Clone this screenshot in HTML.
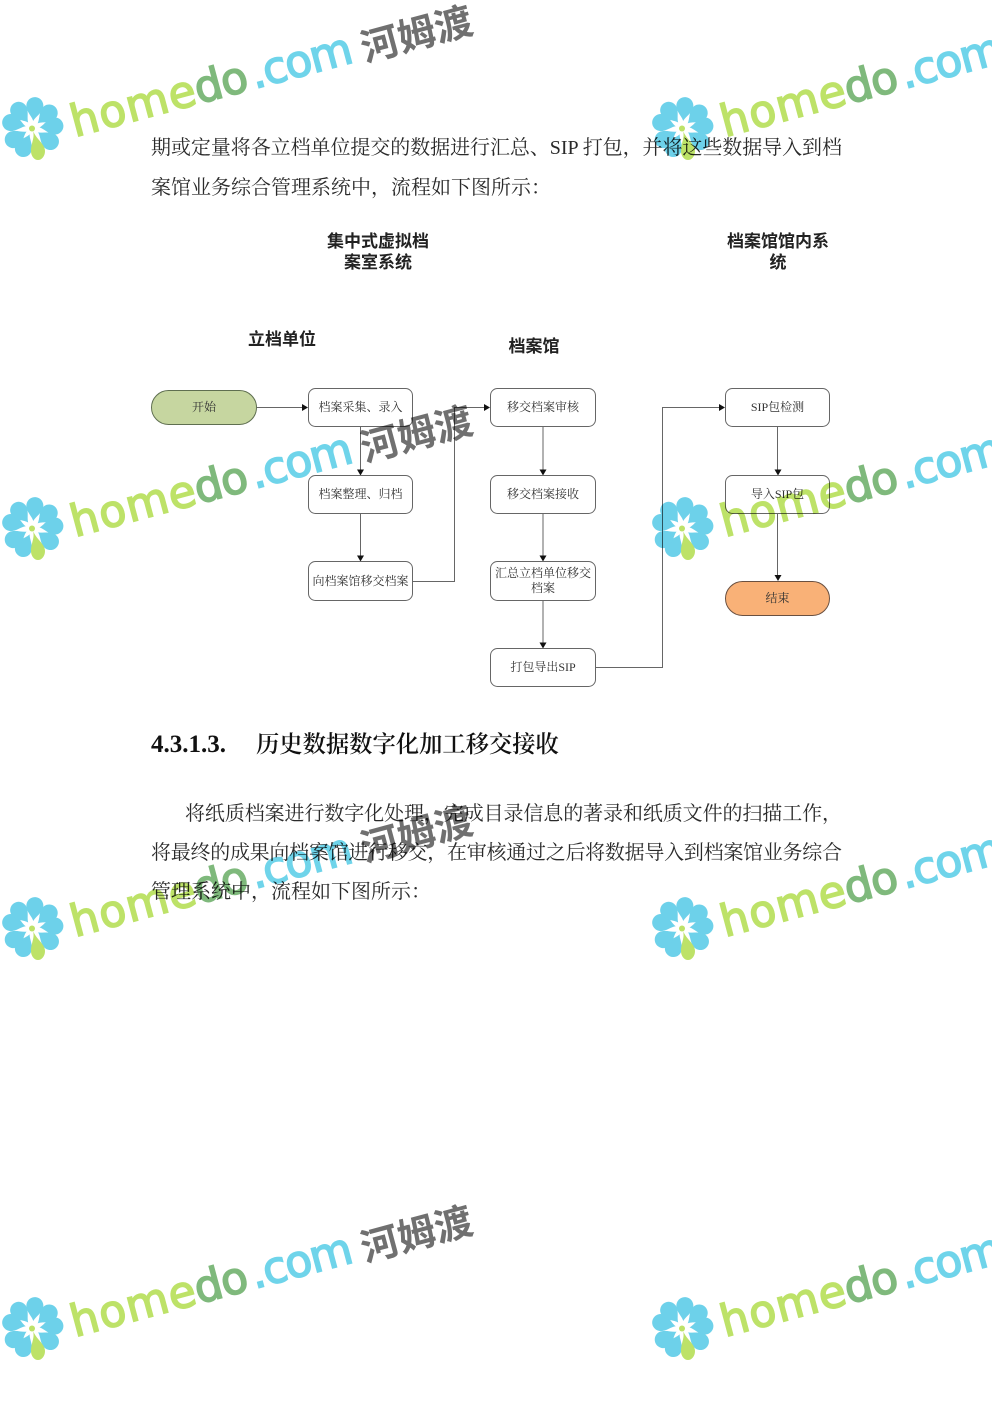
<!DOCTYPE html>
<html lang="zh">
<head>
<meta charset="utf-8">
<style>
html,body{margin:0;padding:0;background:#fff;width:992px;height:1403px;overflow:hidden}
svg{position:absolute;left:0;top:0}
.b{font-family:"Liberation Serif","Noto Serif CJK SC",serif;font-size:20px;fill:#2a2a2a}
.d{font-family:"Liberation Serif","Noto Serif CJK SC",serif;font-size:12px;fill:#333;text-anchor:middle}
.l{font-family:"Liberation Sans","Noto Sans CJK SC",sans-serif;font-size:17px;font-weight:700;fill:#222;text-anchor:middle}
.box{fill:#fff;stroke:#666;stroke-width:1}
.ln{fill:none;stroke:#666;stroke-width:1}
.w1,.w2,.w3{font-family:"DejaVu Sans",sans-serif;font-size:44px;stroke-width:1.6px}
.w1{fill:#bde268;stroke:#bde268}
.w2{fill:#7fb97c;stroke:#7fb97c}
.w3{fill:#6fd4ea;stroke:#6fd4ea}
.w4{font-family:"Noto Sans CJK SC",sans-serif;font-size:38px;font-weight:700;fill:#707070}
.wm{mix-blend-mode:multiply}
</style>
</head>
<body>
<svg width="992" height="1403" viewBox="0 0 992 1403" xmlns="http://www.w3.org/2000/svg">
<defs>
<path id="p" d="M0,-7 C-2,-12 -8.500,-16 -8.500,-22.500 A8.200,8.200 0 0 1 8.500,-22.500 C8.500,-16 2,-12 0,-7Z" fill="#6dd1ea"/>
<g id="fl">
<use href="#p" transform="translate(32.5,128) rotate(6)"/>
<use href="#p" transform="translate(32.5,128) rotate(48)"/>
<use href="#p" transform="translate(32.5,128) rotate(85)"/>
<use href="#p" transform="translate(32.5,128) rotate(127)"/>
<use href="#p" transform="translate(32.5,128) rotate(204)"/>
<use href="#p" transform="translate(32.5,128) rotate(239)"/>
<use href="#p" transform="translate(32.5,128) rotate(284)"/>
<use href="#p" transform="translate(32.5,128) rotate(322)"/>
<circle cx="32" cy="128.500" r="3" fill="#bde268"/>
<path d="M33,131 C35,138 31,143 31,151 A7,9 0 0 0 45,151 C45,144 37,140 33,131Z" fill="#bde268"/>
</g>
</defs>

<!-- body text -->
<text class="b" x="151" y="154" textLength="691" lengthAdjust="spacing">期或定量将各立档单位提交的数据进行汇总、SIP 打包，并将这些数据导入到档</text>
<text class="b" x="151" y="194">案馆业务综合管理系统中，流程如下图所示：</text>

<text class="l" x="378" y="247">集中式虚拟档</text>
<text class="l" x="378" y="268">案室系统</text>
<text class="l" x="778" y="247">档案馆馆内系</text>
<text class="l" x="778" y="268">统</text>
<text class="l" x="282" y="345">立档单位</text>
<text class="l" x="534" y="352">档案馆</text>

<!-- connectors -->
<path class="ln" d="M257,407.500H304M360.500,426V471M360.500,513.500V557M412.500,581.500H454.500V407.500H486M543,426V471M543,513.500V557M543,600.500V644M595.500,667.500H662.500V407.500H721M777.500,426V471M777.500,513.500V577"/>
<g fill="#111">
<path d="M302,404L308,407.500L302,411Z"/>
<path d="M484,404L490,407.500L484,411Z"/>
<path d="M719,404L725,407.500L719,411Z"/>
<path d="M357,469.500H364L360.500,475.500Z"/>
<path d="M357,555.500H364L360.500,561.500Z"/>
<path d="M539.500,469.500H546.500L543,475.500Z"/>
<path d="M539.500,555.500H546.500L543,561.500Z"/>
<path d="M539.500,642.500H546.500L543,648.500Z"/>
<path d="M774.500,469.500H781.500L778,475.500Z"/>
<path d="M774.500,575H781.500L778,581Z"/>
</g>

<!-- nodes -->
<rect x="151.500" y="390.500" width="105" height="34" rx="17" fill="#c6d6a0" stroke="#5f6f50"/>
<rect class="box" x="308.500" y="388.500" width="104" height="38" rx="7"/>
<rect class="box" x="308.500" y="475.500" width="104" height="38" rx="7"/>
<rect class="box" x="308.500" y="561.500" width="104" height="39" rx="7"/>
<rect class="box" x="490.500" y="388.500" width="105" height="38" rx="7"/>
<rect class="box" x="490.500" y="475.500" width="105" height="38" rx="7"/>
<rect class="box" x="490.500" y="561.500" width="105" height="39" rx="7"/>
<rect class="box" x="490.500" y="648.500" width="105" height="38" rx="7"/>
<rect class="box" x="725.500" y="388.500" width="104" height="38" rx="7"/>
<rect class="box" x="725.500" y="475.500" width="104" height="38" rx="7"/>
<rect x="725.500" y="581.500" width="104" height="34" rx="17" fill="#f9b177" stroke="#6a5040"/>

<text class="d" x="204" y="411">开始</text>
<text class="d" x="360.500" y="411">档案采集、录入</text>
<text class="d" x="360.500" y="498">档案整理、归档</text>
<text class="d" x="360.500" y="585">向档案馆移交档案</text>
<text class="d" x="543" y="411">移交档案审核</text>
<text class="d" x="543" y="498">移交档案接收</text>
<text class="d" x="543" y="577">汇总立档单位移交</text>
<text class="d" x="543" y="592">档案</text>
<text class="d" x="543" y="671">打包导出SIP</text>
<text class="d" x="777.500" y="411">SIP包检测</text>
<text class="d" x="777.500" y="498">导入SIP包</text>
<text class="d" x="777.500" y="602">结束</text>

<!-- heading and paragraph -->
<text x="151" y="752" font-family="Liberation Serif" font-weight="700" font-size="25" fill="#111">4.3.1.3.</text>
<text x="256" y="752" font-family="Liberation Serif,Noto Serif CJK SC,serif" font-weight="600" font-size="23.300" fill="#111">历史数据数字化加工移交接收</text>
<text class="b" x="185" y="820" textLength="657" lengthAdjust="spacing">将纸质档案进行数字化处理，完成目录信息的著录和纸质文件的扫描工作，</text>
<text class="b" x="151" y="859" textLength="691" lengthAdjust="spacing">将最终的成果向档案馆进行移交，在审核通过之后将数据导入到档案馆业务综合</text>
<text class="b" x="151" y="898">管理系统中，流程如下图所示：</text>

<!-- watermarks -->
<g class="wm">
<g>
<use href="#fl"/>
<g transform="translate(75,137) rotate(-15)"><text class="w1" x="0" y="0" textLength="128">home</text><text class="w2" x="128" y="0" textLength="54">do</text><text class="w3" x="186" y="0" textLength="104">.com</text></g>
<g transform="translate(365,62) rotate(-15)"><text class="w4" x="0" y="0" textLength="114">河姆渡</text></g>
</g>
<g transform="translate(650,0)"><use href="#fl"/>
<g transform="translate(75,137) rotate(-15)"><text class="w1" x="0" y="0" textLength="128">home</text><text class="w2" x="128" y="0" textLength="54">do</text><text class="w3" x="186" y="0" textLength="104">.com</text></g></g>
<g transform="translate(0,400)"><use href="#fl"/>
<g transform="translate(75,137) rotate(-15)"><text class="w1" x="0" y="0" textLength="128">home</text><text class="w2" x="128" y="0" textLength="54">do</text><text class="w3" x="186" y="0" textLength="104">.com</text></g>
<g transform="translate(365,62) rotate(-15)"><text class="w4" x="0" y="0" textLength="114">河姆渡</text></g></g>
<g transform="translate(650,400)"><use href="#fl"/>
<g transform="translate(75,137) rotate(-15)"><text class="w1" x="0" y="0" textLength="128">home</text><text class="w2" x="128" y="0" textLength="54">do</text><text class="w3" x="186" y="0" textLength="104">.com</text></g></g>
<g transform="translate(0,800)"><use href="#fl"/>
<g transform="translate(75,137) rotate(-15)"><text class="w1" x="0" y="0" textLength="128">home</text><text class="w2" x="128" y="0" textLength="54">do</text><text class="w3" x="186" y="0" textLength="104">.com</text></g>
<g transform="translate(365,62) rotate(-15)"><text class="w4" x="0" y="0" textLength="114">河姆渡</text></g></g>
<g transform="translate(650,800)"><use href="#fl"/>
<g transform="translate(75,137) rotate(-15)"><text class="w1" x="0" y="0" textLength="128">home</text><text class="w2" x="128" y="0" textLength="54">do</text><text class="w3" x="186" y="0" textLength="104">.com</text></g></g>
<g transform="translate(0,1200)"><use href="#fl"/>
<g transform="translate(75,137) rotate(-15)"><text class="w1" x="0" y="0" textLength="128">home</text><text class="w2" x="128" y="0" textLength="54">do</text><text class="w3" x="186" y="0" textLength="104">.com</text></g>
<g transform="translate(365,62) rotate(-15)"><text class="w4" x="0" y="0" textLength="114">河姆渡</text></g></g>
<g transform="translate(650,1200)"><use href="#fl"/>
<g transform="translate(75,137) rotate(-15)"><text class="w1" x="0" y="0" textLength="128">home</text><text class="w2" x="128" y="0" textLength="54">do</text><text class="w3" x="186" y="0" textLength="104">.com</text></g></g>
</g>
</svg>
</body>
</html>
